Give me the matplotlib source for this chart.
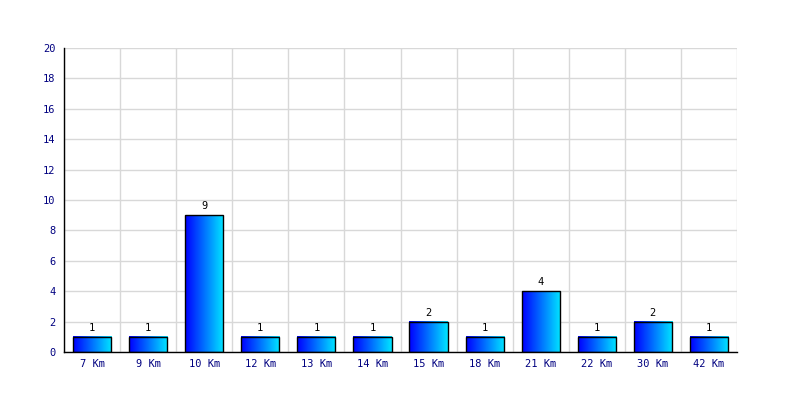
import matplotlib
matplotlib.use("Agg")
import matplotlib.pyplot as plt
import numpy as np
from matplotlib.colors import LinearSegmentedColormap

categories = ["7 Km", "9 Km", "10 Km", "12 Km", "13 Km", "14 Km", "15 Km", "18 Km", "21 Km", "22 Km", "30 Km", "42 Km"]
values = [1, 1, 9, 1, 1, 1, 2, 1, 4, 1, 2, 1]
yticks = list(range(0, 21, 2))

fig = plt.figure(figsize=(8, 4), dpi=100)
ax = fig.add_axes([0.08, 0.12, 0.84125, 0.76])
n = len(categories)
x = np.arange(n)
width = 0.68
cmap = LinearSegmentedColormap.from_list("g", [(0, 0, 1), (0, 0.9, 1)])
grad = np.linspace(0, 1, 64).reshape(1, -1)

ax.set_xlim(-0.5, n - 0.5)
ax.set_ylim(0, 20)
for xi, v in zip(x, values):
    ax.imshow(grad, cmap=cmap, aspect="auto", extent=(xi - width / 2, xi + width / 2, 0, v), zorder=2)
    ax.text(xi, v + 0.25, str(v), ha="center", va="bottom", fontsize=7.5, family="DejaVu Sans Mono", color="black", zorder=4)
ax.bar(x, values, width=width, facecolor="none", edgecolor="black", linewidth=1, zorder=3)
ax.set_xlim(-0.5, n - 0.5)
ax.set_ylim(0, 20)

ax.set_yticks(yticks)
ax.set_yticklabels([str(t) for t in yticks], fontsize=7.5, family="DejaVu Sans Mono", color="#000080")
ax.set_xticks(x)
ax.set_xticklabels(categories, fontsize=7.5, family="DejaVu Sans Mono", color="#000080")
ax.set_xticks(np.arange(-0.5, n, 1), minor=True)
ax.tick_params(axis="both", which="both", length=0)
ax.tick_params(axis="y", pad=6)
ax.tick_params(axis="x", pad=5)
ax.grid(True, axis="y", which="major", color="#d8d8d8", linewidth=1, zorder=0)
ax.grid(True, axis="x", which="minor", color="#d8d8d8", linewidth=1, zorder=0)
ax.set_axisbelow(True)
for s in ["top", "right"]:
    ax.spines[s].set_visible(False)
for s in ["left", "bottom"]:
    ax.spines[s].set_color("black")
    ax.spines[s].set_linewidth(1)

fig.savefig("out.png", dpi=100, facecolor="white")
